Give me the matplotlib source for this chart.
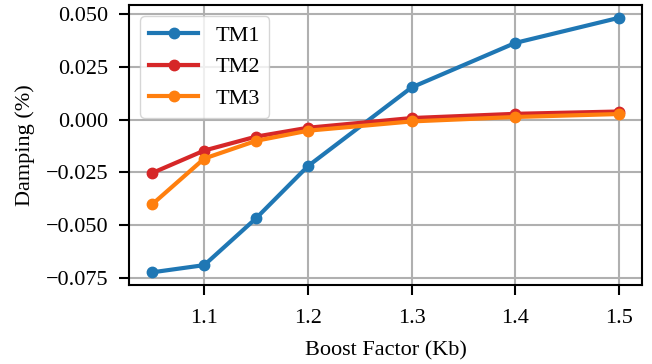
import matplotlib
matplotlib.use("Agg")
import matplotlib.pyplot as plt

plt.rcParams['font.family'] = ['Liberation Serif', 'DejaVu Serif']
plt.rcParams['mathtext.fontset'] = 'stix'

# Boost factor values and damping for each torsional mode
kb = [1.05, 1.1, 1.15, 1.2, 1.3, 1.4, 1.5]
tm1 = [-0.0723, -0.0689, -0.0467, -0.0220, 0.0153, 0.0364, 0.0483]
tm2 = [-0.0252, -0.0146, -0.0080, -0.0038, 0.0008, 0.0028, 0.0039]
tm3 = [-0.0400, -0.0184, -0.0100, -0.0052, -0.0008, 0.0013, 0.0027]
labels = ["TM1", "TM2", "TM3"]
colors = ["#1f77b4", "#d62728", "#ff7f0e"]

fig = plt.figure(figsize=(6.52, 3.64), dpi=100)
ax = fig.add_axes([0.198, 0.217, 0.787, 0.769])

for series, lab, c in zip([tm1, tm2, tm3], labels, colors):
    ax.plot(kb, series, marker='o', color=c, linewidth=3, markersize=7.5, label=lab)

ax.set_xticks([1.1, 1.2, 1.3, 1.4, 1.5])
ax.set_yticks([-0.075, -0.050, -0.025, 0.0, 0.025, 0.050])
ax.grid(True, color='#b0b0b0', linewidth=1.5)
ax.set_axisbelow(True)
for s in ax.spines.values():
    s.set_linewidth(1.5)
ax.tick_params(labelsize=16, width=1.5, length=7)
ax.tick_params(axis='y', pad=8)
ax.tick_params(axis='x', pad=10)
ax.set_xlabel("Boost Factor (Kb)", fontsize=16, labelpad=10)
ax.set_ylabel("Damping (%)", fontsize=16, labelpad=8)
ax.legend(fontsize=16, loc='upper left', framealpha=0.8, handlelength=2.2)

fig.savefig("out.png", dpi=100)
